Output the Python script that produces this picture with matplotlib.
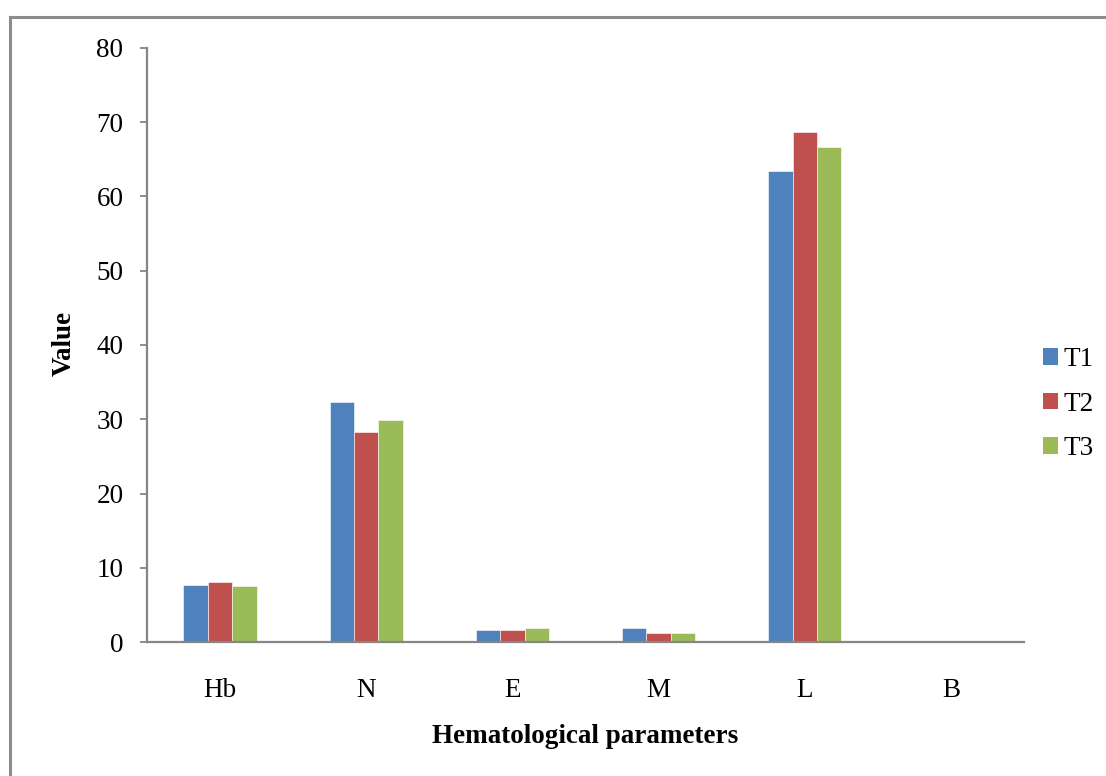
import matplotlib
matplotlib.use("Agg")
import matplotlib.pyplot as plt
import numpy as np
from matplotlib.patches import Patch
from matplotlib.lines import Line2D

plt.rcParams['font.family'] = ['Liberation Serif', 'DejaVu Serif']

categories = ["Hb", "N", "E", "M", "L", "B"]
series_names = ["T1", "T2", "T3"]
t1 = [7.7, 32.3, 1.7, 1.95, 63.4, 0]
t2 = [8.15, 28.35, 1.7, 1.25, 68.7, 0]
t3 = [7.6, 29.9, 1.95, 1.25, 66.7, 0]
colors = ["#4F81BD", "#C0504D", "#9BBB59"]
y_ticks = [0, 10, 20, 30, 40, 50, 60, 70, 80]

W, H = 1106, 776
fig = plt.figure(figsize=(W / 100, H / 100), dpi=100)
ax = fig.add_axes([147 / W, 1 - 642.3 / H, (1024 - 147) / W, (642.3 - 47.7) / H])

x = np.arange(len(categories))
bw = 0.167
for i, (vals, c) in enumerate(zip([t1, t2, t3], colors)):
    ax.bar(x + (i - 1) * bw, vals, width=bw, color=c, edgecolor="white",
           linewidth=0.4, zorder=2)

ax.set_xlim(-0.5, len(categories) - 0.5)
ax.set_ylim(0, 80)
ax.set_yticks(y_ticks)
ax.set_xticks(x)
ax.set_xticklabels(categories)
ax.tick_params(axis="y", direction="out", length=5, width=1.3, color="#868686",
               pad=12, labelsize=19.5)
ax.tick_params(axis="x", length=0, pad=26, labelsize=19.5)
for s in ["top", "right"]:
    ax.spines[s].set_visible(False)
for s in ["left", "bottom"]:
    ax.spines[s].set_color("#868686")
    ax.spines[s].set_linewidth(1.6)

ax.set_ylabel("Value", fontsize=19.5, fontweight="bold")
ax.yaxis.set_label_coords(-(147 - 77) / (1024 - 147), (642.3 - 343) / (642.3 - 47.7))
ax.set_xlabel("Hematological parameters", fontsize=19.5, fontweight="bold")
ax.xaxis.set_label_coords(0.5, -(724 - 642.3) / (642.3 - 47.7))

handles = [Patch(facecolor=c, edgecolor="none") for c in colors]
fig.legend(handles, series_names, loc="center left",
           bbox_to_anchor=(1043 / W, 1 - 404 / H), frameon=False,
           fontsize=19.5, handlelength=0.55, handleheight=0.55,
           handletextpad=0.2, labelspacing=0.72, borderaxespad=0,
           borderpad=0)

# frame lines around the chart area
fig.add_artist(Line2D([10 / W, 10 / W], [0, 1 - 17 / H], color="#8C8C8C",
                      linewidth=2.2, transform=fig.transFigure))
fig.add_artist(Line2D([10 / W, 1104 / W], [1 - 17 / H, 1 - 17 / H], color="#8C8C8C",
                      linewidth=2.2, transform=fig.transFigure))

fig.savefig("out.png", dpi=100)
